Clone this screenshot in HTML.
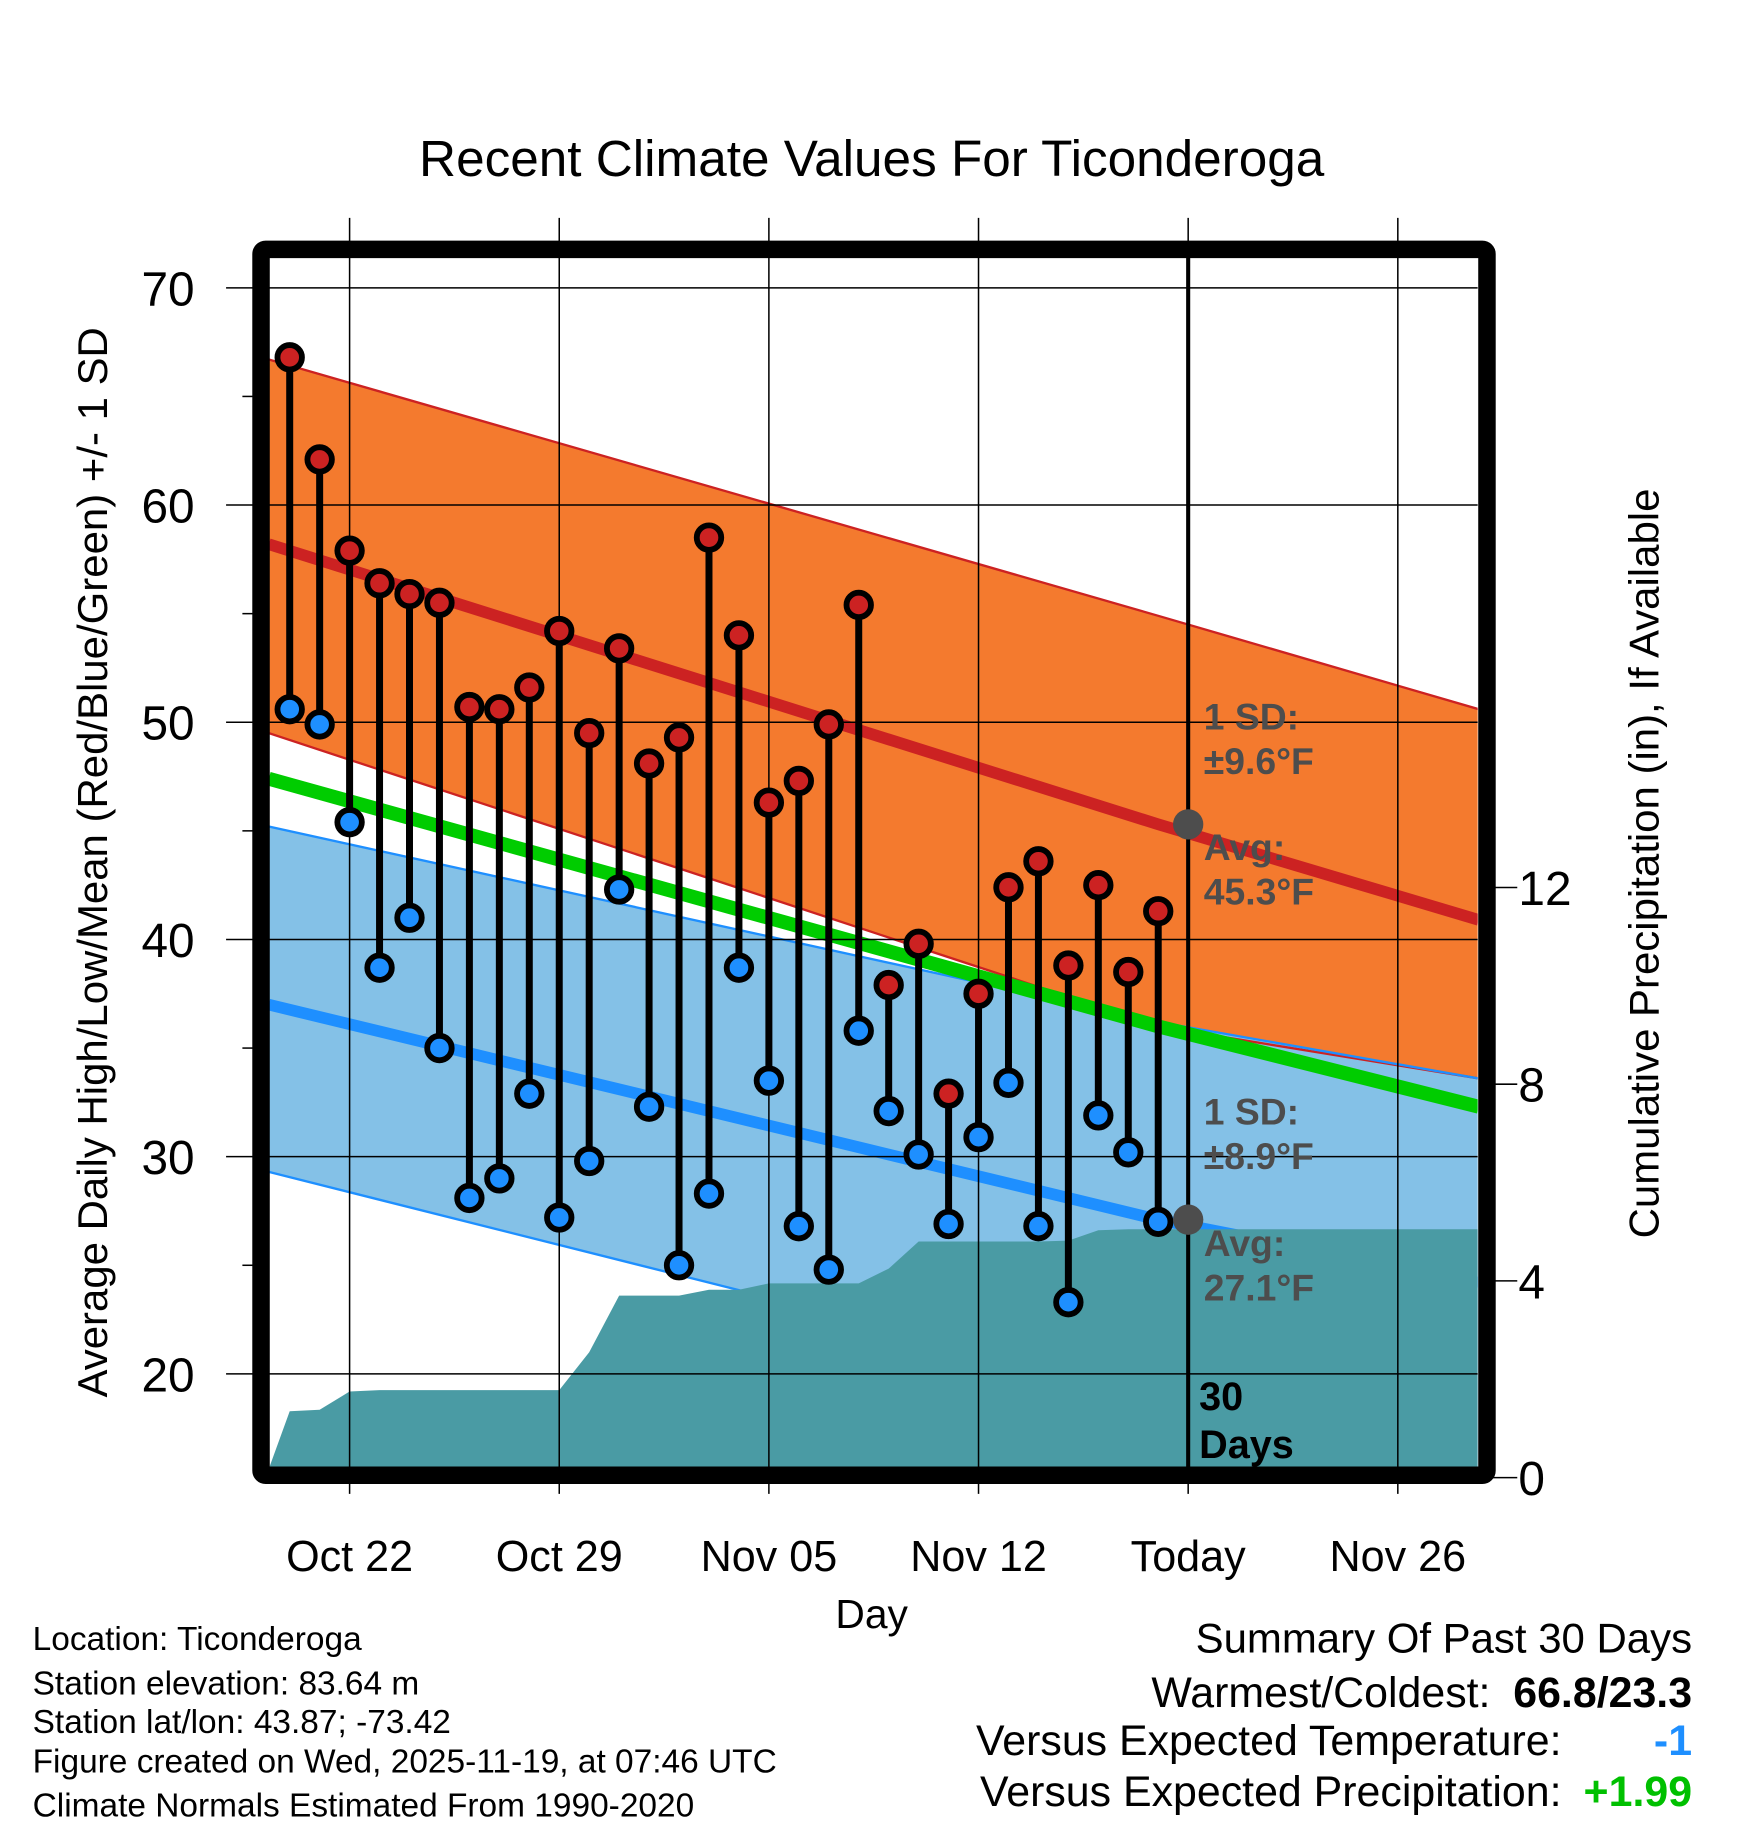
<!DOCTYPE html>
<html><head><meta charset="utf-8"><style>html,body{margin:0;padding:0;background:#fff}svg{display:block}text{font-family:"Liberation Sans",sans-serif}</style></head>
<body>
<svg id="chart" width="1748" height="1828" viewBox="0 0 1500 1568.7" preserveAspectRatio="none" xmlns="http://www.w3.org/2000/svg">
<rect width="1500" height="1568.7" fill="#fff"/>
<g id="g"></g>
</svg>
<script>
// ---- data ----
const days = [-2,-1,0,1,2,3,4,5,6,7,8,9,10,11,12,13,14,15,16,17,18,19,20,21,22,23,24,25,26,27];
const highs = [66.8,62.1,57.9,56.4,55.9,55.5,50.7,50.6,51.6,54.2,49.5,53.4,48.1,49.3,58.5,54.0,46.3,47.3,49.9,55.4,37.9,39.8,32.9,37.5,42.4,43.6,38.8,42.5,38.5,41.3];
const lows = [50.6,49.9,45.4,38.7,41.0,35.0,28.1,29.0,32.9,27.2,29.8,42.3,32.3,25.0,28.3,38.7,33.5,26.8,24.8,35.8,32.1,30.1,26.9,30.9,33.4,26.8,23.3,31.9,30.2,27.0];
const precip = [1.35,1.38,1.75,1.78,1.78,1.78,1.78,1.78,1.78,1.78,2.55,3.7,3.7,3.7,3.82,3.82,3.95,3.95,3.95,3.95,4.25,4.8,4.8,4.8,4.8,4.8,4.82,5.03,5.05,5.05];
const normDays = [-2.7,27,37.7];
const highAvg = [58.2,45.3,40.9];
const highUpper = [66.7,54.9,50.6];
const highLower = [49.5,36.0,33.6];
const meanAvg = [47.4,36.0,32.3];
const lowAvg = [37.0,27.1,24.2];
const lowUpper = [45.2,36.2,33.6];
const lowLower = [29.3,19.0,14.8];
const xTickDays = [0,7,14,21,28,35];
const xTickLabels = ["Oct 22","Oct 29","Nov 05","Nov 12","Today","Nov 26"];
const yTicks = [20,30,40,50,60,70];
const yMinor = [25,35,45,55,65];
const rTicks = [0,4,8,12];

// ---- scales ----
const X = d => 300 + d*25.7;
const Y = v => 247 + (70 - v)*18.64;
const R = v => 1268 - v*42.2;
const L=231, Rt=1268, T=221, B=1259;
const NS="http://www.w3.org/2000/svg";
const g=document.getElementById('g');
function mk(tag, attrs, parent){const e=document.createElementNS(NS,tag);for(const k in attrs)e.setAttribute(k,attrs[k]);(parent||g).appendChild(e);return e;}
function txt(s, attrs){const e=mk('text',attrs);e.textContent=s;return e;}
const clip=mk('clipPath',{id:'pc'});mk('rect',{x:L,y:T,width:Rt-L,height:B-T},clip);
const plot=mk('g',{'clip-path':'url(#pc)'});
function linePts(arr){return normDays.map((d,i)=>X(d)+','+Y(arr[i])).join(' ');}
function band(up,lo,fill){const p=normDays.map((d,i)=>X(d)+','+Y(up[i])).concat(normDays.slice().reverse().map((d,j)=>{const i=normDays.length-1-j;return X(d)+','+Y(lo[i]);}));return mk('polygon',{points:p.join(' '),fill:fill},plot);}
let e;
e=band(highUpper,highLower,'#f47a2e');


e=band(lowUpper,lowLower,'#84c1e7');


[[highUpper,'#cc2222',2,'high-upper-line'],[highLower,'#cc2222',2,'high-lower-line'],[lowUpper,'#1e8fff',2,'low-upper-line'],[lowLower,'#1e8fff',2,'low-lower-line'],[meanAvg,'#00cc00',12,'mean-normal-line'],[highAvg,'#cc2222',10,'high-normal-line'],[lowAvg,'#1e8fff',10,'low-normal-line']].forEach(a=>{
 e=mk('polyline',{points:linePts(a[0]),fill:'none',stroke:a[1],'stroke-width':a[2]},plot);
 
 
});
// grid
xTickDays.forEach((d,i)=>{
 e=mk('line',{x1:X(d),x2:X(d),y1:187,y2:1282,stroke:'#000','stroke-width':1.3});
 
 
 e=txt(xTickLabels[i],{x:X(d),y:1348,'font-size':37,'text-anchor':'middle'});
 
 
});
yTicks.forEach(v=>{
 e=mk('line',{x1:194,x2:Rt,y1:Y(v),y2:Y(v),stroke:'#000','stroke-width':1.3});
 
 
 e=txt(String(v),{x:167,y:Y(v)+15,'font-size':41,'text-anchor':'end'});
 
 
});
yMinor.forEach(v=>{mk('line',{x1:208,x2:220,y1:Y(v),y2:Y(v),stroke:'#000','stroke-width':1.3});});
rTicks.forEach(v=>{
 e=mk('line',{x1:1280,x2:1302,y1:R(v),y2:R(v),stroke:'#000','stroke-width':1.3});
 
 
 e=txt(String(v),{x:1303,y:R(v)+15,'font-size':41});
 
 
});
// precip area
let pp=[L+','+B, L+','+R(0.2)];
days.forEach((d,i)=>pp.push(X(d)+','+R(precip[i])));
pp.push(Rt+','+R(precip[precip.length-1]));pp.push(Rt+','+B);
e=mk('polygon',{points:pp.join(' '),fill:'#4a9ba4'},plot);


// stems & markers
days.forEach((d,i)=>{
 e=mk('line',{x1:X(d),x2:X(d),y1:Y(highs[i]),y2:Y(lows[i]),stroke:'#000','stroke-width':6});
 
 
 e=mk('circle',{cx:X(d),cy:Y(highs[i]),r:10.5,fill:'#cc2222',stroke:'#000','stroke-width':5});
 
 
 e=mk('circle',{cx:X(d),cy:Y(lows[i]),r:10.5,fill:'#1e8fff',stroke:'#000','stroke-width':5});
 
 
});
e=mk('line',{x1:X(28),x2:X(28),y1:T,y2:B,stroke:'#000','stroke-width':3.5});


[highAvg,lowAvg].forEach(a=>{
 e=mk('circle',{cx:X(28),cy:Y(a[1]),r:13,fill:'#4d4d4d'});
 
 
});
// annotations
[["1 SD:",626],["±9.6°F",664],["Avg:",738],["45.3°F",776],["1 SD:",965],["±8.9°F",1003],["Avg:",1078],["27.1°F",1116]].forEach(a=>{
 e=txt(a[0],{x:1033,y:a[1],'font-size':32,'font-weight':'bold',fill:'#4d4d4d'});
 
 
});
[["30",1210],["Days",1251]].forEach(a=>{
 e=txt(a[0],{x:1029,y:a[1],'font-size':34,'font-weight':'bold',fill:'#000'});
 
 
});
// frame
e=mk('rect',{x:224,y:214,width:1052,height:1052,fill:'none',stroke:'#000','stroke-width':15,rx:4});


// titles
e=txt("Recent Climate Values For Ticonderoga",{x:748,y:151,'font-size':44,'text-anchor':'middle'});


e=txt("Day",{x:748,y:1397,'font-size':35,'text-anchor':'middle'});


e=txt("Average Daily High/Low/Mean (Red/Blue/Green) +/- 1 SD",{x:0,y:0,'font-size':36,'text-anchor':'middle',transform:'translate(92,740) rotate(-90)'});


e=txt("Cumulative Precipitation (in), If Available",{x:0,y:0,'font-size':36,'text-anchor':'middle',transform:'translate(1423,741) rotate(-90)'});


// footer
[["Location: Ticonderoga",1416],["Station elevation: 83.64 m",1454],["Station lat/lon: 43.87; -73.42",1487],["Figure created on Wed, 2025-11-19, at 07:46 UTC",1521],["Climate Normals Estimated From 1990-2020",1559]].forEach(a=>{
 e=txt(a[0],{x:28,y:a[1],'font-size':28.7});
 
 
});
e=txt("Summary Of Past 30 Days",{x:1452,y:1418,'font-size':36,'text-anchor':'end'});


[["Warmest/Coldest:",1279,1465,"66.8/23.3",'#000'],["Versus Expected Temperature:",1340,1506,"-1",'#1e8fff'],["Versus Expected Precipitation:",1340,1550,"+1.99",'#00c000']].forEach(a=>{
 e=txt(a[0],{x:a[1],y:a[2],'font-size':36.8,'text-anchor':'end'});
 
 
 e=txt(a[3],{x:1452,y:a[2],'font-size':36.8,'font-weight':'bold','text-anchor':'end',fill:a[4]});
 
 
});
</script>
</body></html>
